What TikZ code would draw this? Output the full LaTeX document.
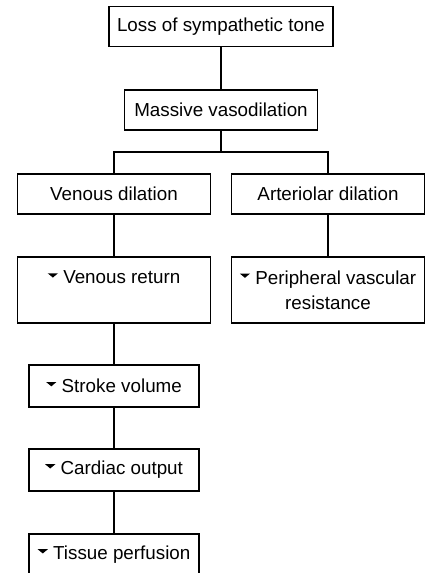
\documentclass[tikz,border=0pt]{standalone}
\usepackage{fontspec}
\setmainfont{Liberation Sans}
\newcommand\dtri{\tikz[baseline=0pt]\fill (0pt,0.57em) -- (0.55em,0.57em) -- (0.275em,0.34em) -- cycle;}
\begin{document}
\begin{tikzpicture}[x=1pt,y=1pt,
  box/.style={draw, line width=1.9pt, inner sep=0pt, align=center,
    font=\fontsize{18.8}{25}\selectfont},
  conn/.style={line width=1.9pt}]
\useasboundingbox (0,0) rectangle (429,-573);
\clip (0,0) rectangle (429,-573);
\node[box, minimum width=224, minimum height=40] (b1) at (221,-26.5) {Loss of sympathetic tone};
\node[box, minimum width=193, minimum height=40] (b2) at (221,-110) {Massive vasodilation};
\node[box, minimum width=193, minimum height=40] (vd) at (114,-194) {Venous dilation};
\node[box, minimum width=193, minimum height=40] (ad) at (328,-194) {Arteriolar dilation};
\node[box, minimum width=193, minimum height=66] (vr) at (114,-290) {\dtri\ Venous return\\\mbox{}};
\node[box, minimum width=193, minimum height=66] (pr) at (328,-290) {\dtri\ Peripheral vascular\\resistance};
\node[box, minimum width=170, minimum height=42] (sv) at (114,-386) {\dtri\ Stroke volume};
\node[box, minimum width=170, minimum height=42] (co) at (114,-470) {\dtri\ Cardiac output};
\node[box, minimum width=170, minimum height=42] (tp) at (114,-555) {\dtri\ Tissue perfusion};
\coordinate (br) at (221,-152);
\draw[conn] (b1.south) -- (b2.north);
\draw[conn] (b2.south) -- (br);
\draw[conn] (vd.north) |- (br) -| (ad.north);
\draw[conn] (vd.south) -- (vr.north);
\draw[conn] (ad.south) -- (pr.north);
\draw[conn] (vr.south) -- (sv.north);
\draw[conn] (sv.south) -- (co.north);
\draw[conn] (co.south) -- (tp.north);
\end{tikzpicture}
\end{document}
